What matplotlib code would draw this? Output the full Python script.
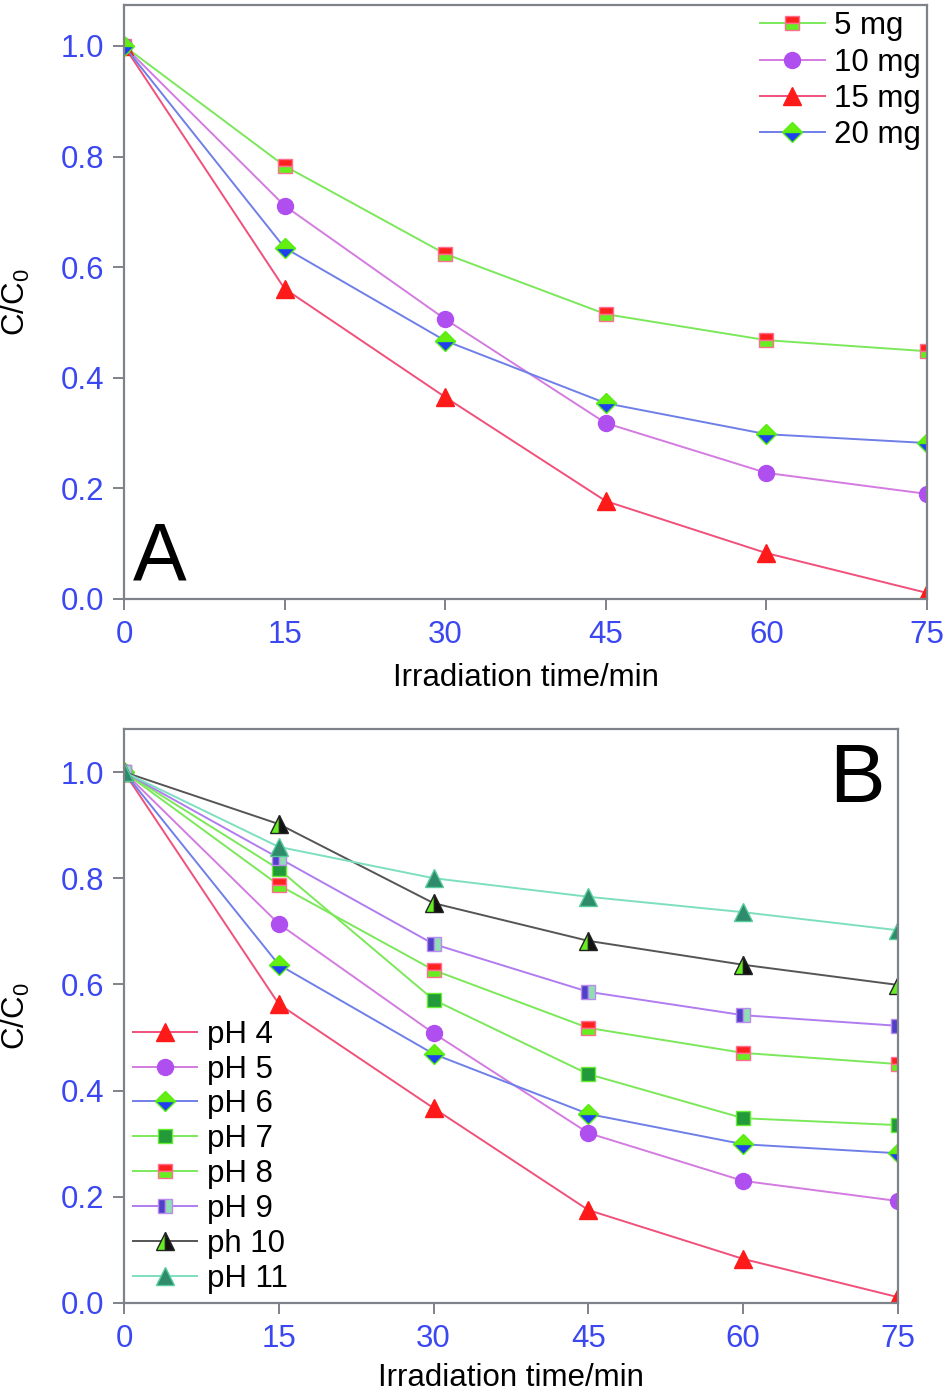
import matplotlib
matplotlib.use("Agg")
import matplotlib.pyplot as plt

plt.rcParams['font.family'] = ['Liberation Sans', 'DejaVu Sans']
plt.rcParams['mathtext.fontset'] = 'custom'
plt.rcParams['mathtext.rm'] = 'Liberation Sans'

time = [0, 15, 30, 45, 60, 75]

# panel A: catalyst dosage
mg5 = [1.0, 0.783, 0.624, 0.515, 0.468, 0.448]
mg10 = [1.0, 0.711, 0.506, 0.318, 0.228, 0.190]
mg15 = [1.0, 0.561, 0.365, 0.177, 0.083, 0.011]
mg20 = [1.0, 0.635, 0.467, 0.354, 0.298, 0.282]
labels_a = ['5 mg', '10 mg', '15 mg', '20 mg']

# panel B: pH
ph4 = [1.0, 0.563, 0.367, 0.175, 0.083, 0.011]
ph5 = [1.0, 0.714, 0.508, 0.320, 0.230, 0.192]
ph6 = [1.0, 0.637, 0.469, 0.356, 0.299, 0.282]
ph7 = [1.0, 0.817, 0.571, 0.431, 0.348, 0.335]
ph8 = [1.0, 0.787, 0.627, 0.518, 0.471, 0.450]
ph9 = [1.0, 0.838, 0.676, 0.586, 0.542, 0.522]
ph10 = [1.0, 0.902, 0.753, 0.682, 0.637, 0.599]
ph11 = [1.0, 0.859, 0.800, 0.765, 0.736, 0.702]
labels_b = ['pH 4', 'pH 5', 'pH 6', 'pH 7', 'pH 8', 'pH 9', 'ph 10', 'pH 11']

# marker / line styles
sq_red = dict(marker='s', fillstyle='top', markerfacecolor='#ff2020',
              markerfacecoloralt='#66ee22', markeredgecolor='#ff7090', markersize=10.5,
              color='#7be85a')
circ = dict(marker='o', markerfacecolor='#b04ff0', markeredgecolor='#b04ff0',
            markersize=11.5, color='#d37be0')
tri_red = dict(marker='^', markerfacecolor='#ff1a1a', markeredgecolor='#ff1a1a',
               markersize=12.5, color='#f0507a')
diam = dict(marker='D', fillstyle='top', markerfacecolor='#66ee11',
            markerfacecoloralt='#2040f0', markeredgecolor='#55ee11', markersize=10.5,
            color='#6f7fe8')
sq_green = dict(marker='s', markerfacecolor='#229a3a', markeredgecolor='#66ee33',
                markersize=10.5, color='#7be85a')
sq_blue = dict(marker='s', fillstyle='left', markerfacecolor='#5040c8',
               markerfacecoloralt='#8ee0b0', markeredgecolor='#b98af0', markersize=10.5,
               color='#b07cf0')
tri_black = dict(marker='^', fillstyle='left', markerfacecolor='#66ee22',
                 markerfacecoloralt='#111111', markeredgecolor='#222222', markersize=12.5,
                 color='#555555')
tri_teal = dict(marker='^', markerfacecolor='#2e8b6b', markeredgecolor='#55cc99',
                markersize=12.5, color='#7ddfbf')

tick_blue = '#3b47f0'
spine_gray = '#7f8389'
fs = 22.5

fig = plt.figure(figsize=(9.5, 13.93), dpi=100)
ax1 = fig.add_axes([124/950, 1-599/1393, (927-124)/950, (599-5)/1393])
ax2 = fig.add_axes([124/950, 1-1303/1393, (898-124)/950, (1303-729)/1393])


def style(ax, ytop):
    ax.set_xlim(0, 75)
    ax.set_ylim(0, ytop)
    ax.set_xticks(time)
    ax.set_yticks([0.0, 0.2, 0.4, 0.6, 0.8, 1.0])
    ax.set_yticklabels(['0.0', '0.2', '0.4', '0.6', '0.8', '1.0'])
    for s in ax.spines.values():
        s.set_color(spine_gray)
        s.set_linewidth(1.6)
    ax.tick_params(direction='out', length=8, width=1.4, color=spine_gray,
                   labelcolor=tick_blue, labelsize=fs, top=False, right=False)
    ax.tick_params(axis='x', pad=7)
    ax.tick_params(axis='y', pad=6)
    ax.set_xlabel('Irradiation time/min', fontsize=fs)
    ax.set_ylabel(r'C/C$_\mathregular{0}$', fontsize=fs)


lw = 1.4

ax1.plot(time, mg5, lw=lw, label=labels_a[0], **sq_red)
ax1.plot(time, mg10, lw=lw, label=labels_a[1], **circ)
ax1.plot(time, mg15, lw=lw, label=labels_a[2], **tri_red)
ax1.plot(time, mg20, lw=lw, label=labels_a[3], **diam)
style(ax1, 1.074)
ax1.xaxis.set_label_coords(0.5, -0.108)
ax1.yaxis.set_label_coords(-0.115, 0.5)
ax1.text(0.011, 0.032, 'A', transform=ax1.transAxes, fontsize=58, ha='left', va='baseline')
ax1.legend(loc='upper right', frameon=False, fontsize=fs, handlelength=2.05,
           handletextpad=0.3, labelspacing=0.2, borderaxespad=0.1,
           borderpad=0.1, bbox_to_anchor=(1.0, 1.0))

ax2.plot(time, ph4, lw=lw, label=labels_b[0], **tri_red)
ax2.plot(time, ph5, lw=lw, label=labels_b[1], **circ)
ax2.plot(time, ph6, lw=lw, label=labels_b[2], **diam)
ax2.plot(time, ph7, lw=lw, label=labels_b[3], **sq_green)
ax2.plot(time, ph8, lw=lw, label=labels_b[4], **sq_red)
ax2.plot(time, ph9, lw=lw, label=labels_b[5], **sq_blue)
ax2.plot(time, ph10, lw=lw, label=labels_b[6], **tri_black)
ax2.plot(time, ph11, lw=lw, label=labels_b[7], **tri_teal)
style(ax2, 1.081)
ax2.xaxis.set_label_coords(0.5, -0.105)
ax2.yaxis.set_label_coords(-0.119, 0.5)
ax2.text(0.911, 0.872, 'B', transform=ax2.transAxes, fontsize=60, ha='left', va='baseline')
ax2.legend(loc='lower left', frameon=False, fontsize=fs, handlelength=2.05,
           handletextpad=0.3, labelspacing=0.155, borderaxespad=0.1,
           borderpad=0.2, bbox_to_anchor=(0.0, 0.0))

fig.savefig('out.png', dpi=100)
